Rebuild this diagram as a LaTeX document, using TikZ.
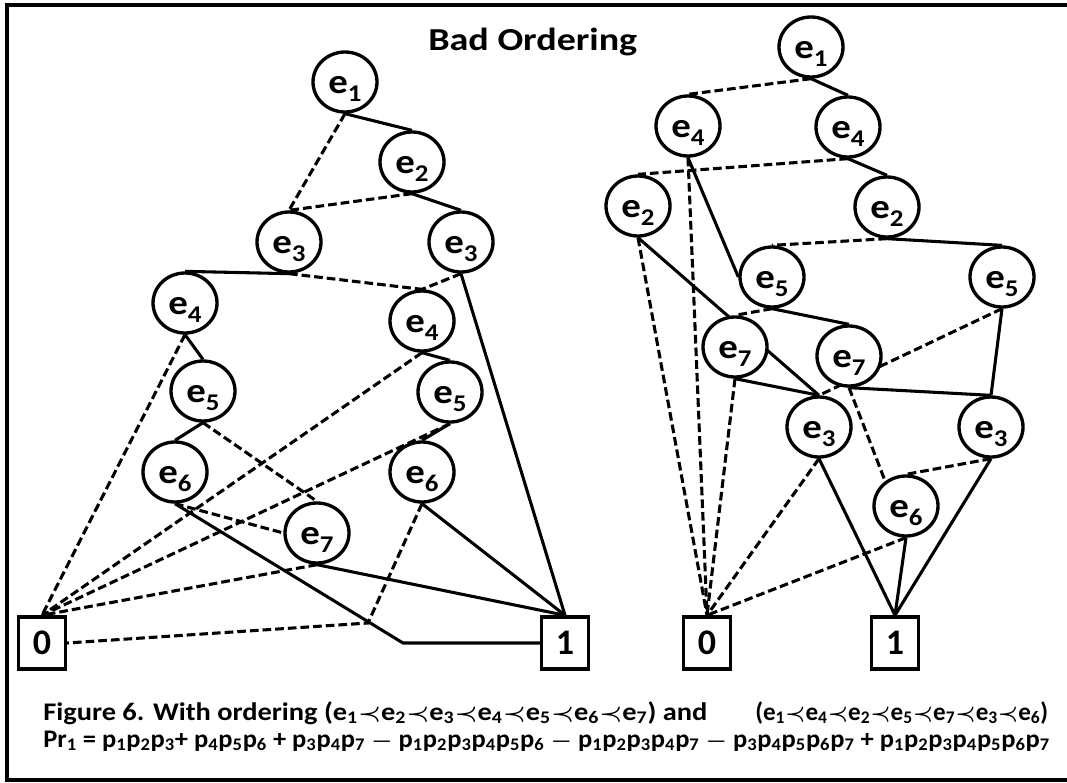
\documentclass[tikz,border=0pt]{standalone}
\usepackage{fontspec}
\setmainfont{Carlito}
\usepackage{graphicx}
\usetikzlibrary{shapes.geometric,backgrounds}

% variable label inside a BDD node: e with a lowered index
\newcommand{\ev}[1]{\scalebox{1.12}[1]{e\raisebox{-6pt}{\fontsize{18}{18}\selectfont #1}}}
% caption helpers
\newcommand{\cape}[1]{e\textsubscript{#1}}
\newcommand{\capp}[1]{p\textsubscript{#1}}
\newcommand{\pr}{$\prec$}

\tikzset{
  bdd/.style={ellipse, draw, line width=2.5pt, fill=white,
    minimum width=48pt, minimum height=45pt, inner sep=0pt,
    font=\fontsize{26}{26}\selectfont\bfseries,
    text height=16.5pt, text depth=0pt},
  term/.style={rectangle, draw, line width=2.6pt, fill=white,
    minimum width=35pt, minimum height=39pt, inner sep=0pt,
    font=\fontsize{27}{27}\selectfont\bfseries,
    text height=17pt, text depth=0pt},
  hi/.style={line width=2.3pt},
  lo/.style={line width=2.3pt, dash pattern=on 6.5pt off 3pt},
  capfont/.style={font=\fontsize{19}{19}\selectfont\bfseries\boldmath, inner sep=0pt}
}

\begin{document}
\begin{tikzpicture}[x=0.75pt,y=-0.75pt]
\useasboundingbox (0,0) rectangle (1067,782);

% frame (open on the right)
\draw[line width=3pt] (1075,4.5) -- (6.5,4.5) -- (6.5,780) -- (1075,780);

\node[anchor=base west, inner sep=0pt, font=\fontsize{24}{24}\selectfont\bfseries]
  (title) at (428,50) {\resizebox{156.75pt}{\height}{Bad Ordering}};

% ---------- first diagram: e1<e2<e3<e4<e5<e6<e7 ----------
\node[bdd] (La1) at (345,82)  {\ev{1}};
\node[bdd] (La2) at (412,162) {\ev{2}};
\node[bdd] (La3) at (289,242) {\ev{3}};
\node[bdd] (Lb3) at (461,242) {\ev{3}};
\node[bdd] (La4) at (185,303) {\ev{4}};
\node[bdd] (Lb4) at (422,321) {\ev{4}};
\node[bdd] (La5) at (203,391) {\ev{5}};
\node[bdd] (Lb5) at (450,392) {\ev{5}};
\node[bdd] (La6) at (175,472) {\ev{6}};
\node[bdd] (Lb6) at (422,472) {\ev{6}};
\node[bdd] (La7) at (317,533) {\ev{7}};
\node[term] (Lzero) at (42,643) {0};
\node[term] (Lone)  at (565,643) {1};
\coordinate (kinkA) at (403,643);
\coordinate (kinkB) at (368,623);

% ---------- second diagram: e1<e4<e2<e5<e7<e3<e6 ----------
\node[bdd] (R1)  at (811,47)  {\ev{1}};
\node[bdd] (Ra4) at (688,126) {\ev{4}};
\node[bdd] (Rb4) at (848,127) {\ev{4}};
\node[bdd] (Ra2) at (638,206) {\ev{2}};
\node[bdd] (Rb2) at (887,207) {\ev{2}};
\node[bdd] (Ra5) at (772,277) {\ev{5}};
\node[bdd] (Rb5) at (1002,277) {\ev{5}};
\node[bdd] (Ra7) at (735,347) {\ev{7}};
\node[bdd] (Rb7) at (849,356) {\ev{7}};
\node[bdd] (Ra3) at (819,427) {\ev{3}};
\node[bdd] (Rb3) at (991,427) {\ev{3}};
\node[bdd] (R6)  at (906,506) {\ev{6}};
\node[term] (Rzero) at (707,643) {0};
\node[term] (Rone)  at (895,643) {1};

\begin{scope}[on background layer]
  % first diagram
  \draw[hi] (La1.south) -- (La2.north);
  \draw[lo] (La1.south) -- (La3.north);
  \draw[lo] (La2.south) -- (La3.north);
  \draw[hi] (La2.south) -- (Lb3.north);
  \draw[hi] (La3.south) -- (La4.north);
  \draw[lo] (La3.south) -- (Lb4.north);
  \draw[lo] (Lb3.south) -- (Lb4.north);
  \draw[hi] (Lb3.south) -- (Lone.north);
  \draw[hi] (La4.south) -- (La5.north);
  \draw[lo] (La4.south) -- (Lzero.north);
  \draw[hi] (Lb4.south) -- (Lb5.north);
  \draw[lo] (Lb4.south) -- (Lzero.north);
  \draw[hi] (La5.south) -- (La6.north);
  \draw[lo] (La5.south) -- (La7.north);
  \draw[hi] (Lb5.south) -- (Lb6.north);
  \draw[lo] (Lb5.south) -- (Lzero.north);
  \draw[lo] (La6.south) -- (La7.west);
  \draw[hi] (La6.south) -- (kinkA) -- (Lone.west);
  \draw[hi] (Lb6.south) -- (Lone.north);
  \draw[lo] (Lb6.south) -- (kinkB) -- (Lzero.east);
  \draw[lo] (La7.south) -- (Lzero.north);
  \draw[hi] (La7.south) -- (Lone.north);
  % second diagram
  \draw[lo] (R1.south) -- (Ra4.north);
  \draw[hi] (R1.south) -- (Rb4.north);
  \draw[hi] (Ra4.south) -- (Ra5.west);
  \draw[lo] (Ra4.south) -- (Rzero.north);
  \draw[lo] (Rb4.south) -- (Ra2.north);
  \draw[hi] (Rb4.south) -- (Rb2.north);
  \draw[lo] (Ra2.south) -- (Rzero.north);
  \draw[hi] (Ra2.south) -- (Ra3.north);
  \draw[lo] (Rb2.south) -- (Ra5.north);
  \draw[hi] (Rb2.south) -- (Rb5.north);
  \draw[lo] (Ra5.south) -- (Ra7.north);
  \draw[hi] (Ra5.south) -- (Rb7.north);
  \draw[lo] (Rb5.south) -- (Ra3.north);
  \draw[hi] (Rb5.south) -- (Rb3.north);
  \draw[hi] (Ra7.south) -- (Ra3.north);
  \draw[lo] (Ra7.south) -- (Rzero.north);
  \draw[hi] (Rb7.south) -- (Rb3.north);
  \draw[lo] (Rb7.south) -- (R6.130);
  \draw[lo] (Ra3.south) -- (Rzero.north);
  \draw[hi] (Ra3.south) -- (Rone.north);
  \draw[lo] (Rb3.south) -- (R6.north);
  \draw[hi] (Rb3.south) -- (Rone.north);
  \draw[lo] (R6.south) -- (Rzero.north);
  \draw[hi] (R6.south) -- (Rone.north);
\end{scope}

% caption
\node[capfont, anchor=base west] (capA) at (43,720)
  {\resizebox{498pt}{\height}{Figure 6. With ordering (\cape1\pr\cape2\pr\cape3\pr\cape4\pr\cape5\pr\cape6\pr\cape7) and}};
\node[capfont, anchor=base west] (capB) at (755,720)
  {\resizebox{219.75pt}{\height}{(\cape1\pr\cape4\pr\cape2\pr\cape5\pr\cape7\pr\cape3\pr\cape6)}};
\node[capfont, anchor=base west] (capC) at (43,747)
  {\resizebox{755pt}{\height}{Pr\textsubscript{1} = \capp1\capp2\capp3+ \capp4\capp5\capp6 + \capp3\capp4\capp7 $-$ \capp1\capp2\capp3\capp4\capp5\capp6 $-$ \capp1\capp2\capp3\capp4\capp7 $-$ \capp3\capp4\capp5\capp6\capp7 + \capp1\capp2\capp3\capp4\capp5\capp6\capp7}};
\end{tikzpicture}
\end{document}
